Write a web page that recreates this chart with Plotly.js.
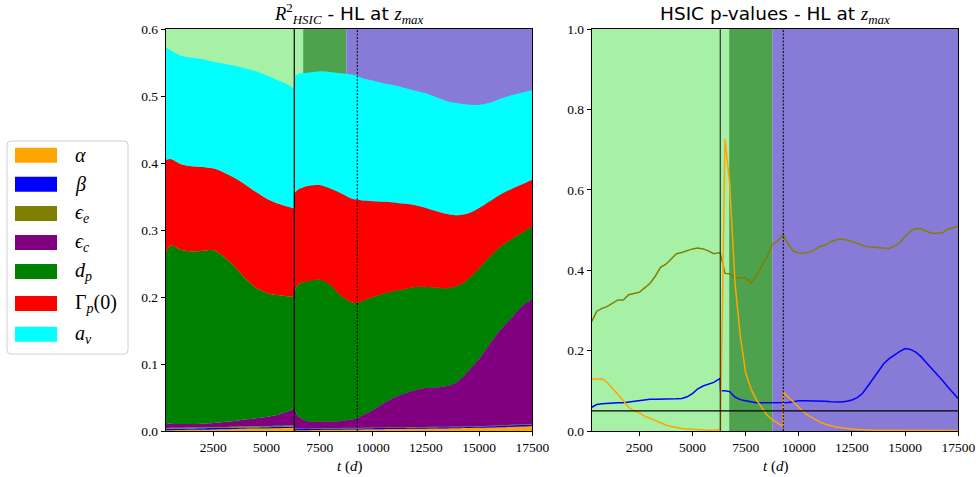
<!DOCTYPE html>
<html>
<head>
<meta charset="utf-8">
<script src="https://cdn.plot.ly/plotly-3.0.1.min.js"></script>
<style>html,body{margin:0;padding:0;background:#fff;}#chart{width:978px;height:477px;}</style>
</head>
<body>
<div id="chart"></div>
<script>
// ---------- DATA ----------
// Stacked R2_HSIC, segment 1 (before first break) and segment 2 (after)
const tStack1 = [262, 500, 1000, 1500, 2000, 2500, 3000, 3500, 4000, 4500, 5000, 5500, 6000, 6300];
const alpha1 = [0.0010, 0.0011, 0.0014, 0.0017, 0.0020, 0.0024, 0.0027, 0.0031, 0.0034, 0.0036, 0.0039, 0.0042, 0.0045, 0.0047];
const beta1  = [0.0021, 0.0021, 0.0020, 0.0020, 0.0020, 0.0019, 0.0019, 0.0019, 0.0018, 0.0018, 0.0018, 0.0018, 0.0019, 0.0020];
const epsE1  = [0.0015, 0.0015, 0.0014, 0.0014, 0.0014, 0.0014, 0.0015, 0.0015, 0.0015, 0.0016, 0.0016, 0.0017, 0.0018, 0.0019];
const epsC1  = [0.0074, 0.0063, 0.0057, 0.0054, 0.0056, 0.0063, 0.0074, 0.0085, 0.0103, 0.0120, 0.0137, 0.0163, 0.0208, 0.0254];
const dP1    = [0.254, 0.266, 0.2595, 0.2575, 0.258, 0.258, 0.2465, 0.230, 0.211, 0.195, 0.185, 0.179, 0.172, 0.166];
const gamma1 = [0.139, 0.129, 0.128, 0.127, 0.125, 0.122, 0.126, 0.133, 0.140, 0.143, 0.141, 0.137, 0.134, 0.132];
const aV1    = [0.168, 0.162, 0.162, 0.162, 0.161, 0.159, 0.162, 0.167, 0.173, 0.180, 0.184, 0.184, 0.182, 0.179];

const tStack2 = [6310, 6500, 7000, 7500, 8000, 8500, 9000, 9270, 9500, 10000, 10500, 11000, 11500, 12000, 12500, 13000, 13500, 14000, 14500, 15000, 15500, 16000, 16500, 17000, 17500];
const alpha2 = [0.0010, 0.0011, 0.0013, 0.0015, 0.0017, 0.0019, 0.0021, 0.0022, 0.0023, 0.0025, 0.0027, 0.0029, 0.0031, 0.0033, 0.0035, 0.0037, 0.0039, 0.0041, 0.0044, 0.0047, 0.0051, 0.0056, 0.0061, 0.0067, 0.0074];
const beta2  = [0.0018, 0.0017, 0.0016, 0.0016, 0.0016, 0.0016, 0.0016, 0.0016, 0.0016, 0.0016, 0.0016, 0.0016, 0.0016, 0.0016, 0.0016, 0.0016, 0.0016, 0.0016, 0.0017, 0.0018, 0.0019, 0.0020, 0.0021, 0.0022, 0.0023];
const epsE2  = [0.0012, 0.0011, 0.0010, 0.0010, 0.0010, 0.0010, 0.0010, 0.0010, 0.0010, 0.0010, 0.0010, 0.0010, 0.0010, 0.0010, 0.0010, 0.0010, 0.0010, 0.0010, 0.0010, 0.0010, 0.0010, 0.0010, 0.0010, 0.0010, 0.0010];
const epsC2  = [0.0300, 0.0181, 0.0101, 0.0099, 0.0097, 0.0105, 0.0123, 0.0142, 0.0181, 0.0259, 0.0357, 0.0445, 0.0503, 0.0551, 0.0579, 0.0587, 0.0605, 0.0673, 0.0829, 0.1005, 0.1220, 0.1424, 0.1588, 0.1761, 0.1863];
const dP2    = [0.174, 0.197, 0.210, 0.212, 0.204, 0.187, 0.175, 0.172, 0.171, 0.169, 0.164, 0.159, 0.156, 0.154, 0.151, 0.149, 0.146, 0.143, 0.137, 0.135, 0.130, 0.124, 0.118, 0.110, 0.108];
const gamma2 = [0.147, 0.142, 0.142, 0.141, 0.144, 0.153, 0.155, 0.154, 0.150, 0.143, 0.137, 0.132, 0.127, 0.122, 0.118, 0.114, 0.111, 0.105, 0.098, 0.090, 0.083, 0.078, 0.075, 0.072, 0.070];
const aV2    = [0.175, 0.172, 0.169, 0.170, 0.174, 0.179, 0.185, 0.185, 0.183, 0.180, 0.177, 0.175, 0.173, 0.171, 0.171, 0.170, 0.168, 0.167, 0.162, 0.154, 0.147, 0.143, 0.140, 0.137, 0.134];

// HSIC p-values
const tP = [262, 500, 750, 1000, 1250, 1500, 1750, 2000, 2250, 2500, 2750, 3000, 3250, 3500, 3750, 4000, 4250, 4500, 4750, 5000, 5250, 5500, 5750, 6000,
  6300, 6320, 6530,
  6750, 7000, 7250, 7500, 7750, 8000, 8250, 8500, 8750, 9000,
  9260, 9280,
  9500, 9750, 10000, 10250, 10500, 10750, 11000, 11250, 11500, 11750, 12000, 12250, 12500, 12750, 13000, 13250, 13500, 13750, 14000, 14250, 14500, 14750, 15000, 15250, 15500, 15750, 16000, 16250, 16500, 16750, 17000, 17250, 17500];
const pAlpha = [0.129, 0.130, 0.130, 0.120, 0.106, 0.091, 0.075, 0.059, 0.050, 0.045, 0.037, 0.031, 0.025, 0.020, 0.015, 0.011, 0.008, 0.006, 0.005, 0.004, 0.003, 0.002, 0.002, 0.002,
  0.002, 0.003, 0.726,
  0.615, 0.370, 0.235, 0.145, 0.105, 0.078, 0.060, 0.040, 0.028, 0.019,
  0.011, 0.096,
  0.085, 0.070, 0.058, 0.046, 0.037, 0.029, 0.022, 0.017, 0.013, 0.010, 0.008, 0.006, 0.005, 0.004, 0.003, 0.003, 0.002, 0.002, 0.002, 0.002, 0.002, 0.002, 0.002, 0.002, 0.002, 0.001, 0.001, 0.001, 0.001, 0.001, 0.001, 0.001, 0.001];
const pBeta = [0.059, 0.066, 0.068, 0.069, 0.069, 0.070, 0.070, 0.072, 0.074, 0.076, 0.078, 0.079, 0.079, 0.079, 0.079, 0.080, 0.080, 0.081, 0.085, 0.093, 0.105, 0.112, 0.117, 0.121,
  0.131, 0.100, 0.100,
  0.098, 0.084, 0.078, 0.075, 0.072, 0.070, 0.070, 0.070, 0.070, 0.070,
  0.070, 0.070,
  0.071, 0.073, 0.075, 0.075, 0.075, 0.074, 0.074, 0.074, 0.073, 0.073, 0.072, 0.074, 0.077, 0.083, 0.094, 0.112, 0.130, 0.150, 0.168, 0.180, 0.190, 0.198, 0.205, 0.203, 0.196, 0.185, 0.170, 0.156, 0.141, 0.126, 0.110, 0.095, 0.080];
const pEpsE = [0.272, 0.298, 0.305, 0.310, 0.318, 0.326, 0.326, 0.339, 0.342, 0.345, 0.356, 0.367, 0.385, 0.407, 0.415, 0.428, 0.441, 0.444, 0.449, 0.453, 0.455, 0.453, 0.448, 0.441,
  0.444, 0.440, 0.392,
  0.391, 0.381, 0.381, 0.381, 0.368, 0.384, 0.410, 0.433, 0.464, 0.472,
  0.488, 0.486,
  0.465, 0.447, 0.443, 0.442, 0.445, 0.451, 0.459, 0.462, 0.471, 0.475, 0.478, 0.475, 0.471, 0.467, 0.462, 0.458, 0.457, 0.456, 0.454, 0.454, 0.460, 0.468, 0.484, 0.497, 0.504, 0.503, 0.497, 0.492, 0.492, 0.493, 0.502, 0.506, 0.510];

// Events / regimes / threshold
const tBreak = 6308;
const tDashed = 9270;
const regimeEdges = [262, 6725, 8753, 17500];
const regimeColors = ['rgba(144,238,144,0.8)', 'rgba(34,139,34,0.8)', 'rgba(106,90,205,0.8)'];
const pThreshold = 0.05;

// Series labels / colours
const seriesLabels = ['<i>α</i>', '<i>β</i>', '<i>ϵ</i><sub><i>e</i></sub>', '<i>ϵ</i><sub><i>c</i></sub>', '<i>d</i><sub><i>p</i></sub>', 'Γ<sub><i>p</i></sub>(0)', '<i>a</i><sub><i>v</i></sub>'];
const seriesColors = ['#FFA500', '#0000FF', '#808000', '#800080', '#008000', '#FF0000', '#00FFFF'];
const xTickStep = 2500;

// ---------- BUILD ----------
const W = 978, H = 477, MT = 29, MB = 46;
const PH = H - MT - MB;
const px = v => v / W;
const py = v => 1 - (v - MT) / PH;
const serif = '"Liberation Serif", "Times New Roman", serif';
const sans = 'DejaVu Sans';

const seg1 = [alpha1, beta1, epsE1, epsC1, dP1, gamma1, aV1];
const seg2 = [alpha2, beta2, epsE2, epsC2, dP2, gamma2, aV2];
const traces = [];
seg1.forEach((ys, i) => traces.push({x: tStack1, y: ys, stackgroup: 's1', mode: 'lines', line: {width: 0, shape: 'spline', smoothing: 0.8}, fillcolor: seriesColors[i], showlegend: false, hoverinfo: 'skip', xaxis: 'x', yaxis: 'y'}));
seg2.forEach((ys, i) => traces.push({x: tStack2, y: ys, stackgroup: 's2', mode: 'lines', line: {width: 0, shape: 'spline', smoothing: 0.8}, fillcolor: seriesColors[i], showlegend: false, hoverinfo: 'skip', xaxis: 'x', yaxis: 'y'}));
[[pEpsE, 2], [pBeta, 1], [pAlpha, 0]].forEach(([ys, ci]) => traces.push({x: tP, y: ys, mode: 'lines', line: {color: seriesColors[ci], width: 1.5}, showlegend: false, xaxis: 'x2', yaxis: 'y2'}));

const shapes = [];
['x', 'x2'].forEach(xr => {
  const yr = xr === 'x' ? 'y domain' : 'y2 domain';
  for (let k = 0; k < 3; k++) {
    shapes.push({type: 'rect', xref: xr, yref: yr, x0: regimeEdges[k], x1: regimeEdges[k + 1], y0: 0, y1: 1, fillcolor: regimeColors[k], line: {width: 0}, layer: 'below'});
  }
  shapes.push({type: 'line', xref: xr, yref: yr, x0: tBreak, x1: tBreak, y0: 0, y1: 1, line: {color: xr === 'x' ? '#000' : '#333', width: 1.2}, layer: 'above'});
  shapes.push({type: 'line', xref: xr, yref: yr, x0: tDashed, x1: tDashed, y0: 0, y1: 1, line: {color: '#000', width: 1, dash: '2px,1.5px'}, layer: 'above'});
});
shapes.push({type: 'line', xref: 'x2 domain', yref: 'y2', x0: 0, x1: 1, y0: pThreshold, y1: pThreshold, line: {color: '#000', width: 1.2}, layer: 'above'});

// legend box (rounded)
const bx0 = px(7), bx1 = px(128), by0 = py(354), by1 = py(141), rx = px(4), ry = 4 / PH;
shapes.push({type: 'path', xref: 'paper', yref: 'paper',
  path: `M${bx0 + rx},${by1} L${bx1 - rx},${by1} Q${bx1},${by1} ${bx1},${by1 - ry} L${bx1},${by0 + ry} Q${bx1},${by0} ${bx1 - rx},${by0} L${bx0 + rx},${by0} Q${bx0},${by0} ${bx0},${by0 + ry} L${bx0},${by1 - ry} Q${bx0},${by1} ${bx0 + rx},${by1} Z`,
  fillcolor: 'rgba(255,255,255,0.8)', line: {color: '#d0d0d0', width: 1}, layer: 'above'});
const rowCenters = [155.2, 184.2, 213.5, 242.5, 271.5, 303.5, 334.2];
const annotations = [];
seriesLabels.forEach((lab, i) => {
  const c = rowCenters[i];
  shapes.push({type: 'rect', xref: 'paper', yref: 'paper', x0: px(15), x1: px(57), y0: py(c + 7.5), y1: py(c - 7.5), fillcolor: seriesColors[i], line: {width: 0}, layer: 'above'});
  annotations.push({xref: 'paper', yref: 'paper', x: px(73), y: py(c), xanchor: 'left', yanchor: 'middle', text: lab, showarrow: false, font: {family: serif, size: 20, color: '#000'}});
});

const dom1 = [165.7 / W, 532.3 / W], dom2 = [591.7 / W, 958.3 / W];
annotations.push({xref: 'paper', yref: 'paper', x: (dom1[0] + dom1[1]) / 2, y: 1, xanchor: 'center', yanchor: 'bottom', yshift: 0, showarrow: false,
  text: `<i>R</i><sup>2</sup><sub><i>HSIC</i></sub><span style="font-family:${sans}"> - HL at </span><i>z</i><sub><i>max</i></sub>`,
  font: {family: serif, size: 18.5, color: '#000'}});
annotations.push({xref: 'paper', yref: 'paper', x: (dom2[0] + dom2[1]) / 2, y: 1, xanchor: 'center', yanchor: 'bottom', yshift: 0, showarrow: false,
  text: `<span style="font-family:${sans}">HSIC p-values - HL at </span><i>z</i><sub><i>max</i></sub>`,
  font: {family: serif, size: 18.5, color: '#000'}});
[dom1, dom2].forEach(d => annotations.push({xref: 'paper', yref: 'paper', x: (d[0] + d[1]) / 2, y: py(466), xanchor: 'center', yanchor: 'middle', showarrow: false,
  text: '<i>t</i> (<i>d</i>)', font: {family: serif, size: 15, color: '#000'}}));

const axBase = () => ({showline: true, mirror: true, linecolor: '#000', linewidth: 1, ticks: 'outside', ticklen: 4, tickwidth: 1, tickcolor: '#000',
  showgrid: false, zeroline: false, tickfont: {family: serif, size: 13.5, color: '#000'}});
const layout = {
  width: W, height: H, margin: {l: 0, r: 0, t: MT, b: MB}, paper_bgcolor: '#fff', plot_bgcolor: '#fff', showlegend: false,
  font: {family: serif, color: '#000'},
  xaxis: Object.assign(axBase(), {domain: dom1, range: [regimeEdges[0], regimeEdges[3]], tick0: 0, dtick: xTickStep, tickformat: 'd', anchor: 'y'}),
  yaxis: Object.assign(axBase(), {domain: [0, 1], range: [0, 0.6], dtick: 0.1, tickformat: '.1f', anchor: 'x'}),
  xaxis2: Object.assign(axBase(), {domain: dom2, range: [regimeEdges[0], regimeEdges[3]], tick0: 0, dtick: xTickStep, tickformat: 'd', anchor: 'y2'}),
  yaxis2: Object.assign(axBase(), {domain: [0, 1], range: [0, 1], dtick: 0.2, tickformat: '.1f', anchor: 'x2'}),
  shapes: shapes, annotations: annotations
};
Plotly.newPlot('chart', traces, layout, {displayModeBar: false, staticPlot: true});
</script>
</body>
</html>
